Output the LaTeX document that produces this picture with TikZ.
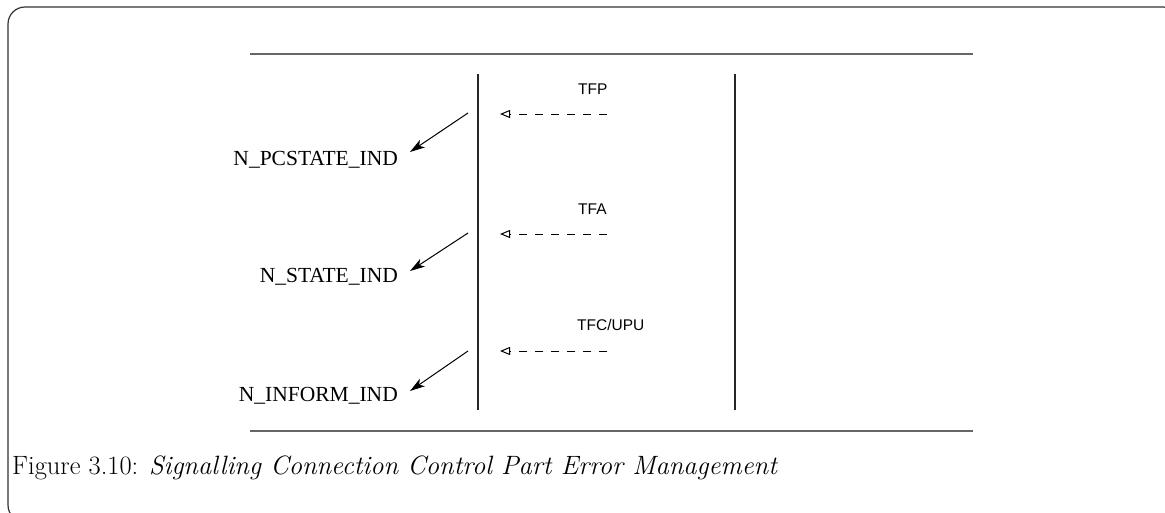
\documentclass[tikz,border=0pt]{standalone}
\usepackage{fontspec}
\usetikzlibrary{arrows.meta}
\newfontfamily\timesf{Liberation Serif}
\newfontfamily\helvf{Liberation Sans}
\tikzset{
  rule/.style={line width=1.4pt, draw=black!60},
  lifeline/.style={line width=1.2pt, draw=black!85},
  prim/.style={font=\timesf\fontsize{21.5}{25}\selectfont, inner sep=0pt, anchor=base east},
  timer/.style={font=\helvf\fontsize{15.5}{18}\selectfont, inner sep=0pt, anchor=base west},
  expiry/.style={line width=1pt, dash pattern=on 8pt off 8pt,
    -{Triangle[open,length=10pt,width=8pt]}},
  indic/.style={line width=1pt, -{Stealth[length=15pt,width=9pt,inset=4pt]}},
}
\begin{document}
\begin{tikzpicture}[x=1pt,y=-1pt]
  \useasboundingbox (0,0) rectangle (1165,512);
  % page frame with rounded corners
  \begin{scope}
    \clip (0,0) rectangle (1165,512);
    \draw[line width=1.2pt, draw=black!80, rounded corners=17pt] (8,7) rectangle (1180,522);
  \end{scope}

  % upper and lower rules
  \draw[rule] (250,54) -- (973,54);
  \draw[rule] (250,431) -- (973,431);

  % two lifelines
  \draw[lifeline] (478,74) -- (478,410);
  \draw[lifeline] (735,74) -- (735,410);

  % timer labels
  \node[timer] (tfp) at (578,94) {TFP};
  \node[timer] (tfa) at (578,214) {TFA};
  \node[timer] (tfc) at (577,330) {TFC/UPU};

  % timer expiries (dashed, open triangle)
  \coordinate (e1s) at (607,114); \coordinate (e1t) at (500,114);
  \coordinate (e2s) at (607,234); \coordinate (e2t) at (500,234);
  \coordinate (e3s) at (607,351); \coordinate (e3t) at (500,351);
  \draw[expiry] (e1s) -- (e1t);
  \draw[expiry] (e2s) -- (e2t);
  \draw[expiry] (e3s) -- (e3t);

  % primitives to the user
  \node[prim] (pc) at (398,165) {N\_PCSTATE\_IND};
  \node[prim] (st) at (398,282) {N\_STATE\_IND};
  \node[prim] (inf) at (398,401) {N\_INFORM\_IND};
  \coordinate (a1) at (468,113); \coordinate (b1) at (410,152);
  \coordinate (a2) at (468,233); \coordinate (b2) at (410,271);
  \coordinate (a3) at (468,351); \coordinate (b3) at (410,391);
  \draw[indic] (a1) -- (b1);
  \draw[indic] (a2) -- (b2);
  \draw[indic] (a3) -- (b3);

  % caption
  \node[anchor=base west, inner sep=0pt, font=\fontsize{26.5}{30}\selectfont] (cap) at (12,474)
    {Figure 3.10: \textit{Signalling Connection Control Part Error Management}};
\end{tikzpicture}
\end{document}
